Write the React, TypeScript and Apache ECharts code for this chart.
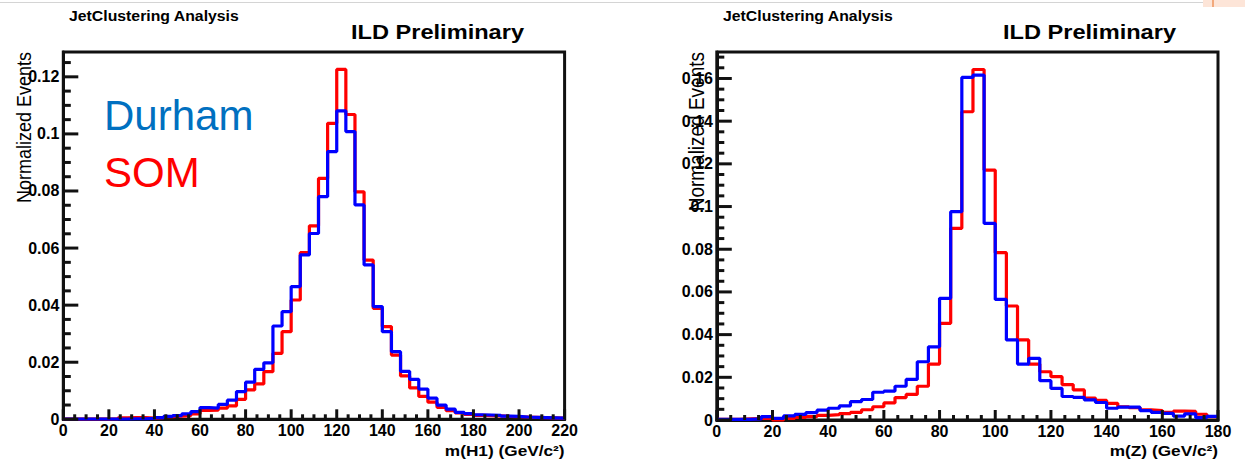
import React, { useEffect, useRef } from "react";
import * as echarts from "echarts";

// ---------- data ----------
const BIN_WIDTH = 4; // GeV

// m(H1): bins 0..220 GeV, width 4
const h1Som = [
  0.0001, 0.0001, 0.0001, 0.0001, 0.0001, 0.0002,
  0.0005, 0.0006, 0.0006, 0.0004,
  0.0006, 0.0009, 0.0011, 0.0013,
  0.0019, 0.0031, 0.0032, 0.0039,
  0.0047, 0.0070, 0.0103, 0.0124,
  0.0167, 0.0231, 0.0307, 0.0418,
  0.0584, 0.0678, 0.0844, 0.1037,
  0.1226, 0.1068, 0.0797, 0.0558,
  0.0389, 0.0325, 0.0225, 0.0152,
  0.0110, 0.0080, 0.0060, 0.0042,
  0.0030, 0.0022, 0.0017, 0.0014,
  0.0013, 0.0012, 0.0010, 0.0009,
  0.0008, 0.0007, 0.0006, 0.0005, 0.0004,
];
const h1Durham = [
  0.0001, 0.0001, 0.0001, 0.0001, 0.0001, 0.0001,
  0.0001, 0.0002, 0.0002, 0.0003,
  0.0006, 0.0010, 0.0013, 0.0019,
  0.0027, 0.0041, 0.0039, 0.0052,
  0.0067, 0.0097, 0.0130, 0.0175,
  0.0198, 0.0327, 0.0377, 0.0465,
  0.0576, 0.0651, 0.0780, 0.0938,
  0.1081, 0.1008, 0.0751, 0.0541,
  0.0395, 0.0307, 0.0237, 0.0168,
  0.0140, 0.0106, 0.0074, 0.0050,
  0.0036, 0.0024, 0.0020, 0.0016,
  0.0015, 0.0014, 0.0011, 0.0010,
  0.0008, 0.0007, 0.0006, 0.0005, 0.0004,
];

// m(Z): bins 0..180 GeV, width 4
const zSom = [
  0.0003, 0.0003, 0.0005, 0.0007, 0.0008, 0.0000,
  0.0008, 0.0012, 0.0016, 0.0022,
  0.0025, 0.0030, 0.0036, 0.0048,
  0.0062, 0.0080, 0.0105, 0.0120,
  0.0158, 0.0262, 0.0453, 0.0898,
  0.1444, 0.1642, 0.1171, 0.0784,
  0.0534, 0.0375, 0.0262, 0.0226,
  0.0203, 0.0166, 0.0141, 0.0103,
  0.0092, 0.0078, 0.0062, 0.0058,
  0.0047, 0.0044, 0.0036, 0.0042,
  0.0040, 0.0027, 0.0016,
];
const zDurham = [
  0.0003, 0.0003, 0.0003, 0.0005, 0.0016, 0.0008,
  0.0019, 0.0026, 0.0035, 0.0046,
  0.0055, 0.0066, 0.0086, 0.0096,
  0.0130, 0.0135, 0.0158, 0.0190,
  0.0273, 0.0343, 0.0570, 0.0976,
  0.1605, 0.1616, 0.0921, 0.0565,
  0.0375, 0.0262, 0.0289, 0.0184,
  0.0148, 0.0110, 0.0106, 0.0094,
  0.0082, 0.0055, 0.0060, 0.0060,
  0.0044, 0.0036, 0.0031, 0.0018,
  0.0029, 0.0011, 0.0017,
];

const h1XMax = 220;
const zXMax = 180;
const xTickStep = 20;
const xMinorStep = 5;
const h1YMax = 0.1287;
const zYMax = 0.1724;
const yTickStep = 0.02;
const yMinorStep = 0.005;

const FONT = "Liberation Sans, Arial, Helvetica, sans-serif";
const RED = "#ff0000";
const BLUE = "#0000ff";
const INK = "#111111";

function toSteps(values: number[]) {
  const pts: number[][] = values.map((v, i) => [i * BIN_WIDTH, v]);
  pts.push([values.length * BIN_WIDTH, values[values.length - 1]]);
  return pts;
}

function isMultiple(v: number, step: number) {
  const k = Math.round(v / step);
  return Math.abs(v - k * step) < 1e-9;
}

function yLabel(v: number) {
  if (!isMultiple(v, yTickStep)) return "";
  return String(Number(v.toFixed(2)));
}

const GRIDS = [
  { left: 63.3, top: 52, width: 501.3, height: 367.3 },
  { left: 716.8, top: 52, width: 501.2, height: 368 },
];

const labelStyle = {
  fontSize: 16,
  fontWeight: "bold",
  color: "#000",
  fontFamily: FONT,
};

function xAxisFor(gridIndex: number, max: number) {
  return {
    gridIndex,
    type: "value",
    min: 0,
    max,
    interval: xTickStep,
    axisLine: { show: true, onZero: false, lineStyle: { color: INK, width: 3 } },
    axisTick: { show: false },
    axisLabel: { margin: 3, ...labelStyle },
    splitLine: { show: false },
  };
}

function yAxisFor(gridIndex: number, max: number) {
  return {
    gridIndex,
    type: "value",
    min: 0,
    max,
    interval: yTickStep,
    axisLine: { show: true, onZero: false, lineStyle: { color: INK, width: 3 } },
    axisTick: { show: false },
    axisLabel: { margin: 4, ...labelStyle, formatter: yLabel, showMaxLabel: false },
    splitLine: { show: false },
  };
}

function histSeries(values: number[], color: string, gridIdx: number, z: number) {
  return {
    type: "line",
    xAxisIndex: gridIdx,
    yAxisIndex: gridIdx,
    data: toSteps(values),
    step: "end",
    symbol: "none",
    showSymbol: false,
    clip: false,
    z,
    lineStyle: { color, width: 3.2 },
  };
}

function txt(text: string, x: number, y: number, fontSize: number, opts: any = {}) {
  return {
    type: "text",
    x,
    y,
    scaleX: opts.scaleX ?? 1,
    scaleY: opts.scaleY ?? 1,
    rotation: opts.rotation ?? 0,
    z: 100,
    style: {
      text,
      fontSize,
      fontFamily: FONT,
      fontWeight: opts.bold ? "bold" : "normal",
      fill: opts.color ?? "#000",
      align: opts.align ?? "left",
      verticalAlign: "middle",
    },
  };
}

const baseGraphic: any[] = [
  {
    type: "line",
    z: 50,
    shape: { x1: 0, y1: 2.5, x2: 1203, y2: 2.5 },
    style: { stroke: "#d4d4d4", lineWidth: 1 },
  },
  {
    type: "rect",
    z: 50,
    shape: { x: 1203, y: 0, width: 42, height: 7 },
    style: { fill: "#fde5d8" },
  },
  {
    type: "line",
    z: 51,
    shape: { x1: 1213, y1: 0, x2: 1213, y2: 7 },
    style: { stroke: "#f2a97c", lineWidth: 2 },
  },
  txt("JetClustering Analysis", 69, 16, 14, { bold: true, scaleX: 1.13 }),
  txt("ILD Preliminary", 351, 32, 20, { bold: true, scaleX: 1.18 }),
  txt("JetClustering Analysis", 723, 16, 14, { bold: true, scaleX: 1.13 }),
  txt("ILD Preliminary", 1003, 32, 20, { bold: true, scaleX: 1.18 }),
  txt("Normalized Events", 24, 52, 18, { rotation: Math.PI / 2, scaleY: 1.12, align: "right" }),
  txt("Normalized Events", 697, 52, 19, { rotation: Math.PI / 2, scaleY: 1.12, align: "right" }),
  txt("m(H1) (GeV/c²)", 564.6, 450, 15, { bold: true, scaleX: 1.15, align: "right" }),
  txt("m(Z) (GeV/c²)", 1218, 450, 15, { bold: true, scaleX: 1.15, align: "right" }),
  txt("Durham", 104, 115, 42, { color: "#0070c0" }),
  txt("SOM", 104, 172, 42, { color: "#ff0000" }),
];

// Tick marks inside the frame, placed through each grid's own axis scales.
function tickElements(chart: any, gridIndex: number, xMax: number, yMax: number) {
  const els: any[] = [];
  const nx = Math.round(xMax / xMinorStep);
  for (let k = 0; k <= nx; k++) {
    const v = k * xMinorStep;
    const p = chart.convertToPixel({ gridIndex }, [v, 0]);
    if (!p) continue;
    const len = isMultiple(v, xTickStep) ? 10 : 5;
    els.push({
      type: "line",
      z: 60,
      silent: true,
      shape: { x1: p[0], y1: p[1], x2: p[0], y2: p[1] - len },
      style: { stroke: INK, lineWidth: 3 },
    });
  }
  const ny = Math.floor(yMax / yMinorStep + 1e-9);
  for (let k = 0; k <= ny; k++) {
    const v = k * yMinorStep;
    const p = chart.convertToPixel({ gridIndex }, [0, v]);
    if (!p) continue;
    const len = isMultiple(v, yTickStep) ? 15 : 7.5;
    els.push({
      type: "line",
      z: 60,
      silent: true,
      shape: { x1: p[0], y1: p[1], x2: p[0] + len, y2: p[1] },
      style: { stroke: INK, lineWidth: 3 },
    });
  }
  return els;
}

export default function App() {
  const ref = useRef<HTMLDivElement>(null);

  useEffect(() => {
    if (!ref.current) return;
    const chart = echarts.init(ref.current, undefined, { renderer: "svg" });
    const option: any = {
      animation: false,
      backgroundColor: "#ffffff",
      grid: GRIDS.map((g) => ({
        ...g,
        show: true,
        borderColor: INK,
        borderWidth: 3,
      })),
      xAxis: [xAxisFor(0, h1XMax), xAxisFor(1, zXMax)],
      yAxis: [yAxisFor(0, h1YMax), yAxisFor(1, zYMax)],
      series: [
        histSeries(h1Som, RED, 0, 6),
        histSeries(h1Durham, BLUE, 0, 7),
        histSeries(zSom, RED, 1, 6),
        histSeries(zDurham, BLUE, 1, 7),
      ],
      graphic: baseGraphic,
    };
    chart.setOption(option);
    const ticks = [
      ...tickElements(chart, 0, h1XMax, h1YMax),
      ...tickElements(chart, 1, zXMax, zYMax),
    ];
    chart.setOption({ graphic: [...baseGraphic, ...ticks] });
    return () => chart.dispose();
  }, []);

  return (
    <div
      ref={ref}
      style={{ position: "fixed", left: 0, top: 0, width: 1245, height: 462, background: "#fff" }}
    />
  );
}
